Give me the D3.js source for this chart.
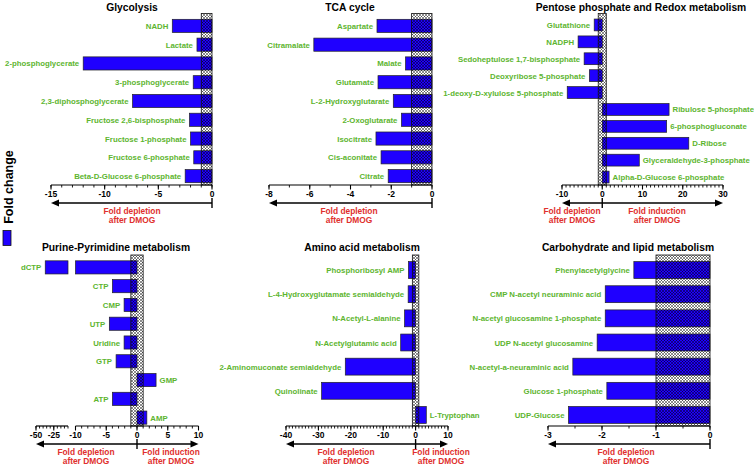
<!DOCTYPE html>
<html><head><meta charset="utf-8">
<script src="https://cdn.jsdelivr.net/npm/d3@7"></script>
<style>body{margin:0;background:#fff}svg{display:block;font-family:"Liberation Sans",Arial,sans-serif}</style>
</head><body><svg id="c" width="754" height="468"></svg>
<script>
// ---------- data ----------
const glyCats = ["NADH","Lactate","2-phosphoglycerate","3-phosphoglycerate","2,3-diphosphoglycerate","Fructose 2,6-bisphosphate","Fructose 1-phosphate","Fructose 6-phosphate","Beta-D-Glucose 6-phosphate"];
const glyVals = [-3.7,-1.4,-12.0,-1.75,-7.4,-2.1,-2.0,-1.7,-2.5];
const tcaCats = ["Aspartate","Citramalate","Malate","Glutamate","L-2-Hydroxyglutarate","2-Oxoglutarate","Isocitrate","Cis-aconitate","Citrate"];
const tcaVals = [-2.7,-5.8,-1.3,-2.65,-1.9,-1.5,-2.75,-2.5,-2.15];
const ppCats = ["Glutathione","NADPH","Sedoheptulose 1,7-bisphosphate","Deoxyribose 5-phosphate","1-deoxy-D-xylulose 5-phosphate","Ribulose 5-phosphate","6-phosphogluconate","D-Ribose","Glyceraldehyde-3-phosphate","Alpha-D-Glucose 6-phosphate"];
const ppVals = [-2,-6,-4.5,-3.2,-8.7,16.6,16,21.5,9.2,1.7];
const purCats = ["dCTP","CTP","CMP","UTP","Uridine","GTP","GMP","ATP","AMP"];
const purVals = [-37,-4,-2.1,-4.5,-2.1,-3.4,3.1,-4,1.6];
const aaCats = ["Phosphoribosyl AMP","L-4-Hydroxyglutamate semialdehyde","N-Acetyl-L-alanine","N-Acetylglutamic acid","2-Aminomuconate semialdehyde","Quinolinate","L-Tryptophan"];
const aaVals = [-2.2,-2.3,-3.4,-4.6,-21.7,-29,3.3];
const carbCats = ["Phenylacetylglycine","CMP N-acetyl neuraminic acid","N-acetyl glucosamine 1-phosphate","UDP N-acetyl glucosamine","N-acetyl-a-neuraminic acid","Glucose 1-phosphate","UDP-Glucose"];
const carbVals = [-1.41,-1.94,-1.94,-2.09,-2.54,-1.91,-2.62];

const glyTicks = [-15,-10,-5,0];
const tcaTicks = [-8,-6,-4,-2,0];
const ppTicks = [-10,0,10,20,30];
const purTicksLow = [-50,-25];
const purTicksHigh = [-10,-5,0,5,10];
const aaTicks = [-40,-30,-20,-10,0,10];
const carbTicks = [-3,-2,-1,0];

const titles = ["Glycolysis","TCA cycle","Pentose phosphate and Redox metabolism","Purine-Pyrimidine metabolism","Amino acid metabolism","Carbohydrate and lipid metabolism"];
const depletionText = ["Fold depletion","after DMOG"];
const inductionText = ["Fold induction","after DMOG"];
const yAxisTitle = "Fold change";

// ---------- style ----------
const BLUE = "#1f00ff", GREEN = "#5db52f", RED = "#e0302e";
const svg = d3.select("#c");
const defs = svg.append("defs");
const pat = defs.append("pattern").attr("id","hatch").attr("patternUnits","userSpaceOnUse")
  .attr("width",3).attr("height",3);
pat.append("path").attr("d","M0,0L3,3M3,0L0,3").attr("stroke","#000").attr("stroke-width",0.75).attr("stroke-opacity",0.6);

const panels = [
 {title:titles[0], cats:glyCats, vals:glyVals, segs:[{dom:[-15,0],rng:[51,212],ticks:glyTicks,minor:1}], hatch:[-1,0], top:true, tx:132, dep:132},
 {title:titles[1], cats:tcaCats, vals:tcaVals, segs:[{dom:[-8,0],rng:[269,432],ticks:tcaTicks,minor:1}], hatch:[-1,0], top:true, tx:350, dep:349},
 {title:titles[2], cats:ppCats, vals:ppVals, segs:[{dom:[-10,30],rng:[562,723],ticks:ppTicks,minor:1}], hatch:[-1,1], top:true, tx:641, dep:572, ind:657},
 {title:titles[3], cats:purCats, vals:purVals, segs:[{dom:[-50,-5],rng:[36,68],ticks:purTicksLow,minor:5},{dom:[-10,10],rng:[75.5,198.5],ticks:purTicksHigh,minor:1}], hatch:[-1,1], top:false, tx:116, dep:86, ind:171},
 {title:titles[4], cats:aaCats, vals:aaVals, segs:[{dom:[-40,10],rng:[286,448],ticks:aaTicks,minor:1}], hatch:[-1,1], top:false, tx:362, dep:346, ind:441},
 {title:titles[5], cats:carbCats, vals:carbVals, segs:[{dom:[-3,0],rng:[548,710],ticks:carbTicks,minor:0.5}], hatch:[-1,0], top:false, tx:628, dep:626}
];

panels.forEach(p => {
  const g = svg.append("g");
  const yr = p.top ? [16.5,185.5] : [258,427];
  const axisY = p.top ? 185 : 426;
  const hatchTop = p.top ? 13.5 : 255;
  const titleY = p.top ? 11 : 251;
  const y = d3.scaleBand().domain(p.cats).range(yr).paddingInner(0.3).paddingOuter(0.15);
  const scales = p.segs.map(s => d3.scaleLinear().domain(s.dom).range(s.rng));
  const main = scales[scales.length-1];
  const low = scales[0];
  const broken = scales.length > 1;

  g.append("text").attr("x",p.tx).attr("y",titleY).attr("text-anchor","middle")
    .attr("font-size",10.3).attr("font-weight","bold").text(p.title);

  p.cats.forEach((c,i) => {
    const v = p.vals[i];
    const yy = y(c), h = y.bandwidth();
    let endX;
    if (broken && v < main.domain()[0]) {
      endX = low(v);
      g.append("rect").attr("x",low(v)).attr("y",yy).attr("width",low.range()[1]-low(v)).attr("height",h)
        .attr("fill",BLUE).attr("stroke","#222").attr("stroke-width",0.7);
      g.append("rect").attr("x",main.range()[0]).attr("y",yy).attr("width",main(0)-main.range()[0]).attr("height",h)
        .attr("fill",BLUE).attr("stroke","#222").attr("stroke-width",0.7);
    } else {
      const x0 = Math.min(main(0), main(v)), x1 = Math.max(main(0), main(v));
      endX = main(v);
      g.append("rect").attr("x",x0).attr("y",yy).attr("width",x1-x0).attr("height",h)
        .attr("fill",BLUE).attr("stroke","#222").attr("stroke-width",0.7);
    }
    g.append("text").attr("x", v<0 ? endX-4 : endX+3.5).attr("y", yy+h/2+3)
      .attr("text-anchor", v<0 ? "end" : "start").attr("font-size",7.8).attr("font-weight","bold")
      .attr("fill",GREEN).text(c);
  });

  // hatched reference band
  g.append("rect").attr("x",main(p.hatch[0])).attr("y",hatchTop)
    .attr("width",main(p.hatch[1])-main(p.hatch[0])).attr("height",axisY-hatchTop)
    .attr("fill","url(#hatch)").attr("stroke","#111").attr("stroke-width",0.8);

  // axes
  p.segs.forEach((s,k) => {
    const sc = scales[k];
    g.append("line").attr("x1",s.rng[0]).attr("x2",s.rng[1]).attr("y1",axisY).attr("y2",axisY)
      .attr("stroke","#000").attr("stroke-width",1.2);
    const minors = d3.range(s.dom[0], s.dom[1]+1e-9, s.minor);
    g.selectAll(null).data(minors).join("line")
      .attr("x1",d=>sc(d)).attr("x2",d=>sc(d)).attr("y1",axisY).attr("y2",axisY+2.5)
      .attr("stroke","#000").attr("stroke-width",0.9);
    g.selectAll(null).data(s.ticks).join("line")
      .attr("x1",d=>sc(d)).attr("x2",d=>sc(d)).attr("y1",axisY).attr("y2",axisY+4.5)
      .attr("stroke","#000").attr("stroke-width",1.1);
    g.selectAll(null).data(s.ticks).join("text")
      .attr("x",d=>sc(d)).attr("y",axisY+12).attr("text-anchor","middle")
      .attr("font-size",8.5).attr("font-weight","bold").text(d=>d);
  });

  // arrows
  const ay = axisY + 18;
  const xl = low.range()[0], xr = main.range()[1], xz = main(0);
  const both = p.ind !== undefined;
  g.append("line").attr("x1",xl+6).attr("x2", both ? xr-6 : xz).attr("y1",ay).attr("y2",ay)
    .attr("stroke","#000").attr("stroke-width",1.6);
  g.append("path").attr("d",`M${xl},${ay}L${xl+8},${ay-3.5}L${xl+8},${ay+3.5}Z`).attr("fill","#000");
  if (both) g.append("path").attr("d",`M${xr},${ay}L${xr-8},${ay-3.5}L${xr-8},${ay+3.5}Z`).attr("fill","#000");
  g.append("line").attr("x1",xz).attr("x2",xz).attr("y1",ay-5).attr("y2",ay+5)
    .attr("stroke","#000").attr("stroke-width",1.4);
  const lab = (x, lines) => lines.forEach((t,j) => g.append("text").attr("x",x).attr("y",axisY+29+j*8.5)
      .attr("text-anchor","middle").attr("font-size",8.4).attr("font-weight","bold").attr("fill",RED).text(t));
  lab(p.dep, depletionText);
  if (both) lab(p.ind, inductionText);
});

// y-axis title and legend swatch
svg.append("text").attr("transform","translate(13,187) rotate(-90)").attr("text-anchor","middle")
  .attr("font-size",12.5).attr("font-weight","bold").text(yAxisTitle);
svg.append("rect").attr("x",3).attr("y",230.5).attr("width",8).attr("height",15)
  .attr("fill",BLUE).attr("stroke","#111").attr("stroke-width",0.8);
</script></body></html>
